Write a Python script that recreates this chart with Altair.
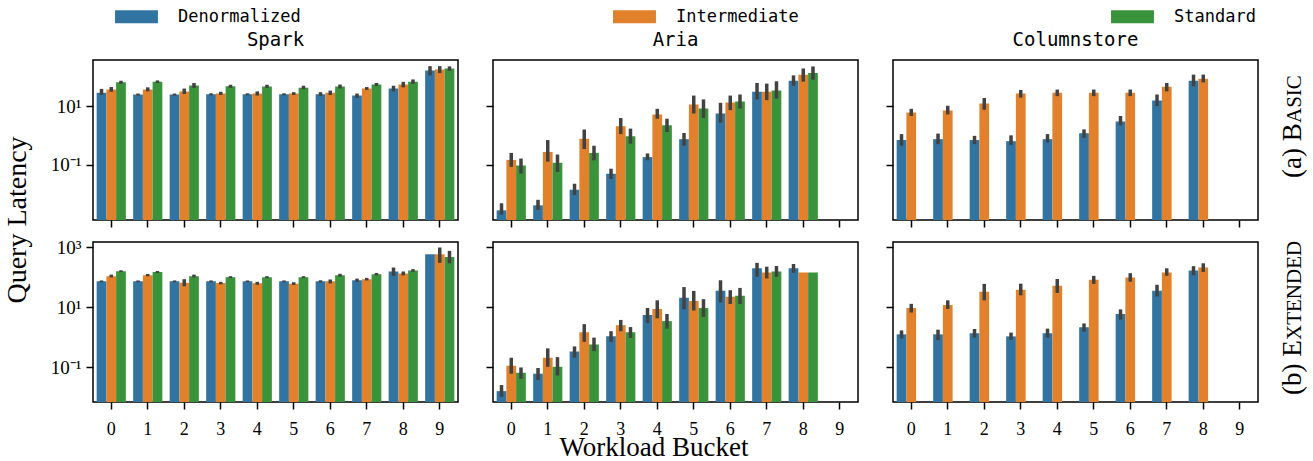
import altair as alt
import pandas as pd

BUCKETS = list(range(10))
SERIES = ["Denormalized", "Intermediate", "Standard"]
COLORS = ["#3274a1", "#e1812c", "#3a923a"]
SYSTEMS = ["Spark", "Aria", "Columnstore"]
WORKLOADS = ["basic", "extended"]
ROW_DOMAIN = {"basic": [0.00126, 380], "extended": [0.0071, 1480]}
ROW_TICKS = {"basic": [0.1, 10], "extended": [0.1, 10, 1000]}

# ---- Spark / basic
spark_basic_mean = {
    "Denormalized": [28.6, 25, 25, 25.5, 25.5, 25.5, 25.5, 23, 40, 166],
    "Intermediate": [37, 37, 32, 27, 27, 27, 28.6, 40, 55, 178],
    "Standard": [66, 69, 51, 48, 47, 43, 47, 55, 69, 193],
}
spark_basic_lo = {
    "Denormalized": [24, 23, 23, 23.5, 23.5, 23.5, 22, 19, 32, 112],
    "Intermediate": [31, 32, 26, 24, 23, 24, 24, 36, 44, 135],
    "Standard": [58, 62, 42, 42, 42, 38, 40, 49, 58, 160],
}
spark_basic_hi = {
    "Denormalized": [39, 27, 27, 27.5, 27.5, 27.5, 30, 27, 50, 234],
    "Intermediate": [45, 44, 40, 31, 32, 30, 34, 45, 68, 235],
    "Standard": [74, 76, 62, 54, 54, 50, 55, 62, 82, 230],
}
# ---- Spark / extended
spark_ext_mean = {
    "Denormalized": [73, 73, 73, 73, 73, 73, 73, 79, 155, 581],
    "Intermediate": [108, 117, 66, 64, 63, 61, 73, 86, 133, 581],
    "Standard": [159, 148, 108, 100, 100, 100, 117, 126, 168, 472],
}
spark_ext_lo = {
    "Denormalized": [68, 68, 68, 68, 68, 68, 67, 70, 110, None],
    "Intermediate": [98, 108, 50, 58, 56, 55, 62, 78, 115, 300],
    "Standard": [148, 137, 98, 93, 93, 93, 105, 115, 152, 290],
}
spark_ext_hi = {
    "Denormalized": [78, 78, 78, 78, 78, 78, 79, 90, 210, None],
    "Intermediate": [122, 128, 86, 70, 70, 68, 84, 95, 155, 970],
    "Standard": [170, 160, 122, 108, 108, 108, 130, 138, 185, 750],
}
# ---- Aria / basic
aria_basic_mean = {
    "Denormalized": [0.0027, 0.004, 0.0138, 0.048, 0.18, 0.74, 5.6, 31, 74, None],
    "Intermediate": [0.144, 0.27, 0.76, 2.05, 5.2, 11.4, 13.3, 31, 118, None],
    "Standard": [0.093, 0.115, 0.25, 0.93, 2.2, 8.3, 14.4, 34, 137, None],
}
aria_basic_lo = {
    "Denormalized": [0.0019, 0.0028, 0.009, 0.032, 0.14, 0.44, 2.7, 17, 50, None],
    "Intermediate": [0.083, 0.126, 0.34, 1.1, 3.7, 5.6, 7.3, 16, 69, None],
    "Standard": [0.049, 0.056, 0.14, 0.52, 1.3, 3.9, 8.3, 18, 80, None],
}
aria_basic_hi = {
    "Denormalized": [0.0047, 0.0062, 0.022, 0.072, 0.24, 1.2, 13, 62, 113, None],
    "Intermediate": [0.25, 0.69, 1.58, 3.9, 8.1, 23, 23, 59, 195, None],
    "Standard": [0.16, 0.22, 0.44, 1.7, 3.7, 17, 25, 71, 229, None],
}
# ---- Aria / extended
aria_ext_mean = {
    "Denormalized": [0.0163, 0.062, 0.34, 1.08, 5.5, 20.6, 35.5, 197, 197, None],
    "Intermediate": [0.114, 0.21, 1.48, 2.53, 8.8, 16.3, 22.3, 144, 144, None],
    "Standard": [0.066, 0.105, 0.58, 1.48, 3.47, 9.5, 24, 155, 144, None],
}
aria_ext_lo = {
    "Denormalized": [0.0105, 0.038, 0.21, 0.71, 2.96, 8.5, 14.4, 103, 140, None],
    "Intermediate": [0.062, 0.105, 0.71, 1.6, 4.3, 7.8, 12.9, 91, None, None],
    "Standard": [0.042, 0.054, 0.35, 0.96, 1.95, 4.8, 12.9, 103, None, None],
}
aria_ext_hi = {
    "Denormalized": [0.026, 0.096, 0.5, 1.6, 9.5, 47, 79, 300, 275, None],
    "Intermediate": [0.21, 0.43, 2.75, 3.8, 17, 35, 37, 224, None, None],
    "Standard": [0.10, 0.22, 0.98, 2.2, 6, 18.6, 44, 236, None, None],
}
# ---- Columnstore / basic (no Standard layout)
col_basic_mean = {
    "Denormalized": [0.69, 0.74, 0.69, 0.63, 0.74, 1.18, 3.0, 15.6, 74, None],
    "Intermediate": [6.1, 7.1, 12.3, 27, 29, 29, 29, 46, 87, None],
}
col_basic_lo = {
    "Denormalized": [0.44, 0.5, 0.5, 0.47, 0.57, 0.82, 2.2, 10, 48, None],
    "Intermediate": [4.6, 5.2, 7.5, 19.6, 22, 22, 22, 32, 65, None],
}
col_basic_hi = {
    "Denormalized": [1.1, 1.15, 0.96, 1.0, 1.1, 1.6, 4.6, 25, 120, None],
    "Intermediate": [8.1, 10.3, 19, 35.6, 37, 37, 37, 62, 120, None],
}
# ---- Columnstore / extended
col_ext_mean = {
    "Denormalized": [1.26, 1.26, 1.37, 1.08, 1.37, 2.17, 6.0, 35.5, 168, None],
    "Intermediate": [9.5, 12, 33, 38, 52, 83, 97, 144, 212, None],
}
col_ext_lo = {
    "Denormalized": [0.92, 0.81, 0.98, 0.83, 0.98, 1.55, 3.9, 23, 117, None],
    "Intermediate": [6.7, 8.8, 17, 25, 30, 60, 71, 111, 150, None],
}
col_ext_hi = {
    "Denormalized": [1.7, 1.8, 1.9, 1.44, 1.95, 2.9, 8.5, 56, 233, None],
    "Intermediate": [13, 17, 60, 61, 87, 111, 136, 197, 290, None],
}

PANELS = {
    ("Spark", "basic"): (spark_basic_mean, spark_basic_lo, spark_basic_hi),
    ("Spark", "extended"): (spark_ext_mean, spark_ext_lo, spark_ext_hi),
    ("Aria", "basic"): (aria_basic_mean, aria_basic_lo, aria_basic_hi),
    ("Aria", "extended"): (aria_ext_mean, aria_ext_lo, aria_ext_hi),
    ("Columnstore", "basic"): (col_basic_mean, col_basic_lo, col_basic_hi),
    ("Columnstore", "extended"): (col_ext_mean, col_ext_lo, col_ext_hi),
}

W, H = 365, 160
SERIF = "Liberation Serif"
MONO = "DejaVu Sans Mono"


def frame(mean, lo, hi):
    rows = []
    for s in SERIES:
        if s not in mean:
            continue
        for b in BUCKETS:
            rows.append({"bucket": b, "series": s, "mean": mean[s][b],
                         "lo": lo[s][b], "hi": hi[s][b]})
    return pd.DataFrame(rows)


def panel(system, workload, col, row):
    mean, lo, hi = PANELS[(system, workload)]
    df = frame(mean, lo, hi)
    dom = ROW_DOMAIN[workload]
    xenc = alt.X("bucket:O",
                 scale=alt.Scale(domain=BUCKETS, paddingInner=0.2, paddingOuter=0.1),
                 axis=alt.Axis(title=None, labels=(row == 1), labelAngle=0,
                               labelFontSize=18, labelPadding=11))
    xoff = alt.XOffset("series:N", scale=alt.Scale(domain=SERIES, paddingInner=0,
                                                   paddingOuter=0))
    yscale = alt.Scale(type="log", domain=dom, clamp=True)
    yaxis = alt.Axis(title=None, values=ROW_TICKS[workload], labels=(col == 0),
                     labelExpr="datum.value < 1 ? '10⁻¹' : (datum.value < 100 ? '10¹' : '10³')")
    color = alt.Color("series:N", scale=alt.Scale(domain=SERIES, range=COLORS),
                      legend=alt.Legend(
                          title=None, orient="none", direction="horizontal",
                          columns=3, legendX=35, legendY=-52,
                          symbolType="M-3.3,-1L3.3,-1L3.3,1L-3.3,1Z",
                          symbolSize=169, symbolStrokeWidth=0, symbolOpacity=1,
                          labelFont=MONO, labelFontSize=17, labelOffset=33,
                          columnPadding=312, labelColor="black"))
    bars = alt.Chart(df).mark_bar().encode(
        x=xenc, xOffset=xoff,
        y=alt.Y("mean:Q", scale=yscale, axis=yaxis),
        y2=alt.Y2(datum=dom[0]),
        color=color,
    )
    errs = alt.Chart(df).transform_filter("isValid(datum.lo)").mark_rule(
        color="#424242", strokeWidth=3.5).encode(
        x=xenc, xOffset=xoff, y=alt.Y("lo:Q", scale=yscale, axis=yaxis), y2="hi:Q")
    layers = [bars, errs]
    if col == 0 and row == 0:
        layers.append(alt.Chart(pd.DataFrame({"t": ["Query Latency"]})).mark_text(
            font=SERIF, fontSize=28, angle=270, align="center", baseline="middle",
            color="black").encode(text="t:N", x=alt.value(-75), y=alt.value(160)))
    if col == 1 and row == 1:
        layers.append(alt.Chart(pd.DataFrame({"t": ["Workload Bucket"]})).mark_text(
            font=SERIF, fontSize=27, align="center", baseline="alphabetic",
            color="black").encode(text="t:N", x=alt.value(161), y=alt.value(214)))
    if col == 2:
        big, small = (["(a) B"], ["ASIC"]) if row == 0 else (["(b) E"], ["XTENDED"])
        y0 = 118 if row == 0 else 153
        layers.append(alt.Chart(pd.DataFrame({"t": big})).mark_text(
            font=SERIF, fontSize=27, angle=270, align="left", baseline="alphabetic",
            color="black").encode(text="t:N", x=alt.value(408), y=alt.value(y0)))
        layers.append(alt.Chart(pd.DataFrame({"t": small})).mark_text(
            font=SERIF, fontSize=21, angle=270, align="left", baseline="alphabetic",
            color="black").encode(text="t:N", x=alt.value(408), y=alt.value(y0 - 55)))
    props = dict(width=W, height=H)
    if row == 0:
        props["title"] = alt.TitleParams(system, font=MONO, fontSize=19,
                                         fontWeight="normal", anchor="middle",
                                         offset=10, color="black")
    return alt.layer(*layers).properties(**props)


charts = []
for r, wl in enumerate(WORKLOADS):
    for c, sysname in enumerate(SYSTEMS):
        charts.append(panel(sysname, wl, c, r))

chart = alt.concat(*charts, columns=3,
                   spacing=alt.RowColnumber(row=22, column=35),
                   bounds="flush").properties(
    padding={"left": 3, "top": 8, "right": 0, "bottom": 0}
).configure_view(stroke="black", strokeWidth=1.5).configure_axis(
    domain=False, grid=False, tickColor="black", tickWidth=1.5, tickSize=7,
    labelFont=SERIF, labelFontSize=19, labelColor="black", labelPadding=5
)

chart.save("out.html", embed_options={"renderer": "svg", "actions": False})
